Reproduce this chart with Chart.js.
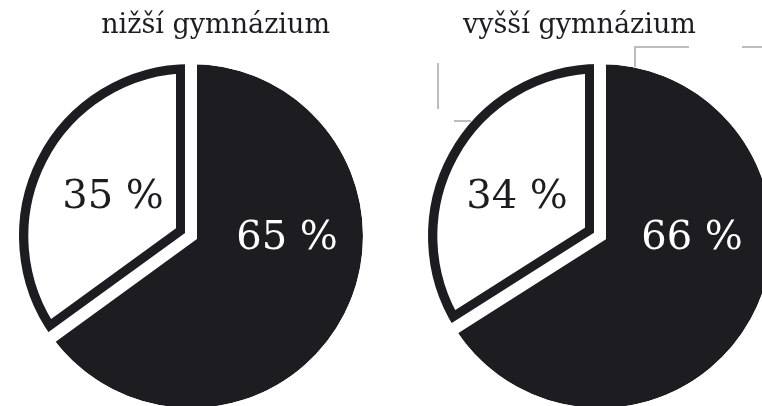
<!DOCTYPE html>
<html>
<head>
<meta charset="utf-8">
<script src="https://cdn.jsdelivr.net/npm/chart.js@4/dist/chart.umd.min.js"></script>
<style>
  html, body { margin: 0; padding: 0; background: #fff; overflow: hidden; width: 762px; height: 406px; }
  .box { position: absolute; top: 0; width: 381px; height: 472px; }
  #lowerBox { left: 0; }
  #upperBox { left: 381px; }
  .mark { position: absolute; background: #bdbdbd; z-index: 2; }
</style>
</head>
<body>
<div class="box" id="lowerBox"><canvas id="lowerChart"></canvas></div>
<div class="box" id="upperBox"><canvas id="upperChart"></canvas></div>

<!-- grey crop marks around the right pie -->
<div class="mark" style="left:437px;top:63px;width:2px;height:46px"></div>
<div class="mark" style="left:454px;top:120px;width:17px;height:2px"></div>
<div class="mark" style="left:634px;top:46px;width:2px;height:21px"></div>
<div class="mark" style="left:634px;top:46px;width:55px;height:2px"></div>
<div class="mark" style="left:742px;top:46px;width:20px;height:2px"></div>

<script>
const titles = ['nižší gymnázium', 'vyšší gymnázium'];
const parts = ['menšina', 'většina'];
const lowerValues = [35, 65];
const upperValues = [34, 66];

const DARK = '#1d1c21';

// draws "35 %" etc. next to each slice
const percentLabels = {
    id: 'percentLabels',
    afterDatasetsDraw(chart, args, opts) {
        const meta = chart.getDatasetMeta(1);
        const values = chart.data.datasets[1].data;
        const ctx = chart.ctx;
        ctx.save();
        ctx.font = '40px "DejaVu Serif"';
        ctx.textAlign = 'center';
        ctx.textBaseline = 'middle';
        meta.data.forEach((arc, i) => {
            ctx.fillStyle = opts.colors[i];
            ctx.fillText(values[i] + ' %', arc.x + opts.offsets[i][0], arc.y + opts.offsets[i][1]);
        });
        ctx.restore();
    }
};

function CreatePieChart(elementId, title, values, padLeft, padRight, titleAlign, offsets) {
    const total = values[0] + values[1];
    const data = {
        labels: parts,
        datasets: [{
            // zero-width ring, only trims the outer rim with white
            data: values,
            weight: 0,
            backgroundColor: 'rgba(0,0,0,0)',
            borderColor: '#fff',
            borderWidth: 12
        }, {
            data: values,
            weight: 1,
            backgroundColor: ['#fff', DARK],
            borderColor: [DARK, '#fff'],
            borderWidth: [15, 12],
            borderAlign: ['inner', 'center'],
            borderJoinStyle: ['round', 'miter']
        }]
    };
    const config = {
        type: 'pie',
        data: data,
        options: {
            responsive: true,
            maintainAspectRatio: false,
            animation: false,
            events: [],
            radius: 178,
            rotation: 360 * values[1] / total,
            layout: { padding: { left: padLeft, right: padRight, top: 0, bottom: 42.4 } },
            plugins: {
                legend: { display: false },
                tooltip: { enabled: false },
                title: {
                    display: true,
                    text: title,
                    align: titleAlign,
                    color: DARK,
                    font: { family: 'DejaVu Serif', size: 27, weight: 'normal' },
                    padding: { top: 10, bottom: 0 }
                },
                percentLabels: { colors: [DARK, '#fff'], offsets: offsets }
            }
        },
        plugins: [percentLabels]
    };
    return new Chart(document.getElementById(elementId), config);
}

CreatePieChart('lowerChart', titles[0], lowerValues, 52, 51, 'end', [[-78, -38], [96, 3]]);
CreatePieChart('upperChart', titles[1], upperValues, 82, 25, 'start', [[-83, -38], [92, 3]]);
</script>
</body>
</html>
